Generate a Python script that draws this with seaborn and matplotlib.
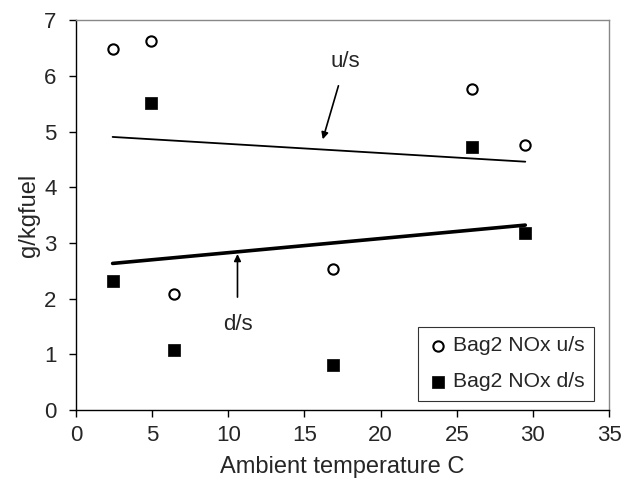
import numpy as np
import pandas as pd
import matplotlib
matplotlib.use("Agg")
import matplotlib.pyplot as plt
import seaborn as sns

# -------------------------------
# Data
# -------------------------------
temp = [2.4, 4.9, 6.4, 16.9, 26.0, 29.5]
nox_us = [6.48, 6.62, 2.09, 2.53, 5.76, 4.76]
nox_ds = [2.31, 5.51, 1.08, 0.81, 4.73, 3.17]
labels = ["Bag2 NOx u/s", "Bag2 NOx d/s"]

df = pd.DataFrame({
    "temp": temp * 2,
    "nox": nox_us + nox_ds,
    "series": [labels[0]] * len(temp) + [labels[1]] * len(temp),
})

# -------------------------------
# Plot
# -------------------------------
sns.set_style("ticks")
plt.rcParams["font.family"] = ["Liberation Sans", "DejaVu Sans"]

fig, ax = plt.subplots(figsize=(6.34, 4.91), dpi=100)
fig.subplots_adjust(left=0.12, right=0.9606, top=0.959, bottom=0.165)

# trend lines (least squares fit, like the spreadsheet trendline)
sns.regplot(x=temp, y=nox_us, ax=ax, scatter=False, ci=None, truncate=True,
            line_kws={"color": "black", "lw": 1.3})
sns.regplot(x=temp, y=nox_ds, ax=ax, scatter=False, ci=None, truncate=True,
            line_kws={"color": "black", "lw": 2.6})

# points
us = df[df["series"] == labels[0]]
ds = df[df["series"] == labels[1]]
sns.scatterplot(data=us, x="temp", y="nox", ax=ax, marker="o", s=55,
                facecolor="white", edgecolor="black", linewidth=1.5,
                label=labels[0], zorder=3)
sns.scatterplot(data=ds, x="temp", y="nox", ax=ax, marker="s", s=70,
                color="black", edgecolor="black", linewidth=0.5,
                label=labels[1], zorder=3)

# arrow annotations
ax.annotate("u/s", xy=(16.2, 4.86), xytext=(17.7, 6.26), fontsize=16,
            ha="center", va="center",
            arrowprops=dict(arrowstyle="-|>", color="black", lw=1.2,
                            shrinkA=8, shrinkB=0, mutation_scale=10))
ax.annotate("d/s", xy=(10.6, 2.8), xytext=(10.6, 1.53), fontsize=16,
            ha="center", va="center",
            arrowprops=dict(arrowstyle="-|>", color="black", lw=1.2,
                            shrinkA=10, shrinkB=0, mutation_scale=10))

ax.set_xlim(0, 35)
ax.set_ylim(0, 7)
ax.set_xticks(range(0, 36, 5))
ax.set_yticks(range(0, 8))
ax.set_xlabel("Ambient temperature C", fontsize=17)
ax.set_ylabel("g/kgfuel", fontsize=17)
ax.xaxis.set_label_coords(0.5, -0.118)
ax.yaxis.set_label_coords(-0.068, 0.5)
ax.tick_params(labelsize=16, direction="out", length=5, width=1, color="black")
ax.tick_params(axis="x", pad=6)
ax.tick_params(axis="y", pad=9)

for side in ["left", "bottom"]:
    ax.spines[side].set_color("black")
    ax.spines[side].set_linewidth(1.0)
for side in ["top", "right"]:
    ax.spines[side].set_visible(True)
    ax.spines[side].set_color("#888888")
    ax.spines[side].set_linewidth(1.0)

leg = ax.legend(loc="lower right", bbox_to_anchor=(0.972, 0.024), fontsize=15.2,
                frameon=True, fancybox=False, handletextpad=0.2,
                borderpad=0.45, labelspacing=0.8, handlelength=1.0,
                borderaxespad=0.0)
leg.get_frame().set_edgecolor("black")
leg.get_frame().set_linewidth(0.8)

fig.savefig("out.png", dpi=100)
